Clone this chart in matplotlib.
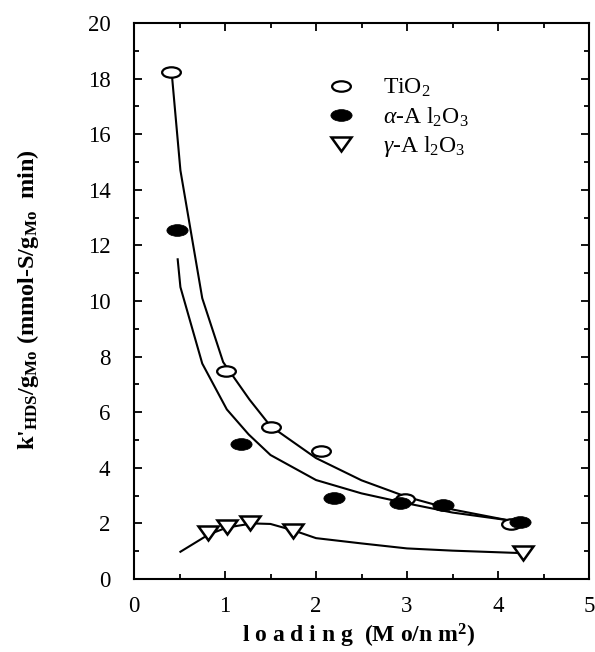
import matplotlib
matplotlib.use("Agg")
import matplotlib.pyplot as plt
from matplotlib.markers import MarkerStyle
from matplotlib.transforms import Affine2D
from matplotlib.ticker import MultipleLocator

plt.rcParams['font.family'] = ['Liberation Serif', 'DejaVu Serif']
plt.rcParams['mathtext.fontset'] = 'custom'
plt.rcParams['mathtext.rm'] = 'Liberation Serif'
plt.rcParams['mathtext.it'] = 'Liberation Serif:italic'
plt.rcParams['mathtext.bf'] = 'Liberation Serif:bold'

# Data points
tio2_x = [0.41, 1.01, 1.50, 2.05, 2.98, 4.14]
tio2_y = [18.25, 7.49, 5.48, 4.62, 2.87, 1.98]
alpha_x = [0.47, 1.18, 2.20, 2.92, 3.40, 4.24]
alpha_y = [12.55, 4.86, 2.91, 2.75, 2.65, 2.05]
gamma_x = [0.81, 1.02, 1.27, 1.75, 4.27]
gamma_y = [1.66, 1.87, 2.02, 1.72, 0.95]

# Fitted curves
tio2_fit_x = [0.42, 0.51, 0.75, 0.98, 1.27, 1.5, 2.0, 2.5, 3.0, 3.5, 4.1, 4.2]
tio2_fit_y = [18.0, 14.7, 10.1, 7.8, 6.45, 5.5, 4.35, 3.55, 2.95, 2.5, 2.12, 2.05]
alpha_fit_x = [0.48, 0.51, 0.75, 1.02, 1.26, 1.5, 2.0, 2.5, 3.0, 3.5, 4.1, 4.2]
alpha_fit_y = [11.5, 10.5, 7.75, 6.1, 5.2, 4.46, 3.56, 3.08, 2.72, 2.39, 2.12, 2.05]
gamma_fit_x = [0.51, 0.82, 1.02, 1.3, 1.5, 1.76, 2.0, 2.5, 3.0, 3.5, 4.1, 4.27]
gamma_fit_y = [0.98, 1.6, 1.85, 2.0, 1.98, 1.74, 1.47, 1.28, 1.1, 1.02, 0.95, 0.93]

fig = plt.figure(figsize=(5.95, 6.52), dpi=100)
ax = fig.add_axes([134 / 595, 73 / 652, 455 / 595, 556 / 652])

for fx, fy in [(tio2_fit_x, tio2_fit_y), (alpha_fit_x, alpha_fit_y), (gamma_fit_x, gamma_fit_y)]:
    ax.plot(fx, fy, color='black', lw=1.5, solid_joinstyle='round')

ell = MarkerStyle('o', transform=Affine2D().scale(1.8, 1.0))
tri = MarkerStyle('v', transform=Affine2D().scale(1.0, 0.7))
ax.plot(tio2_x, tio2_y, linestyle='none', marker=ell, markersize=7.5,
        markerfacecolor='white', markeredgecolor='black', markeredgewidth=1.6, label='TiO$_2$')
ax.plot(alpha_x, alpha_y, linestyle='none', marker=ell, markersize=8.5,
        markerfacecolor='black', markeredgecolor='black', markeredgewidth=0.5,
        label=r'$\alpha$-A l$_2$O$_3$')
ax.plot(gamma_x, gamma_y, linestyle='none', marker=tri, markersize=15,
        markerfacecolor='white', markeredgecolor='black', markeredgewidth=1.8,
        label=r'$\gamma$-A l$_2$O$_3$')

ax.set_xlim(0, 5)
ax.set_ylim(0, 20)
ax.xaxis.set_major_locator(MultipleLocator(1))
ax.xaxis.set_minor_locator(MultipleLocator(0.5))
ax.yaxis.set_major_locator(MultipleLocator(2))
ax.yaxis.set_minor_locator(MultipleLocator(1))
ax.tick_params(which='both', direction='in', top=True, right=True, width=1.3)
ax.tick_params(which='major', length=6, labelsize=16.5)
ax.tick_params(axis='y', which='major', pad=17)
ax.tick_params(axis='x', which='major', pad=12)
ax.tick_params(which='minor', length=3.5)
for s in ax.spines.values():
    s.set_linewidth(1.5)

fig.text(359 / 595, 1 - 636 / 652, r'l o a d i n g  (M o/n m$^{\mathbf{2}}$)',
         fontsize=17, fontweight='bold', ha='center', va='center')
fig.text(28 / 595, 1 - 300 / 652,
         r"k'$_{\mathbf{HDS}}$/g$_{\mathbf{Mo}}$ (mmol-S/g$_{\mathbf{Mo}}$  min)",
         fontsize=17.5, fontweight='bold', rotation=90, ha='center', va='center')

ax.legend(loc='upper left', bbox_to_anchor=(324 / 595, 1 - 77 / 652),
          bbox_transform=fig.transFigure, frameon=False, fontsize=17,
          borderpad=0, borderaxespad=0,
          handletextpad=1.1, labelspacing=0.25, handlelength=1.4)

fig.savefig('out.png', dpi=100)
